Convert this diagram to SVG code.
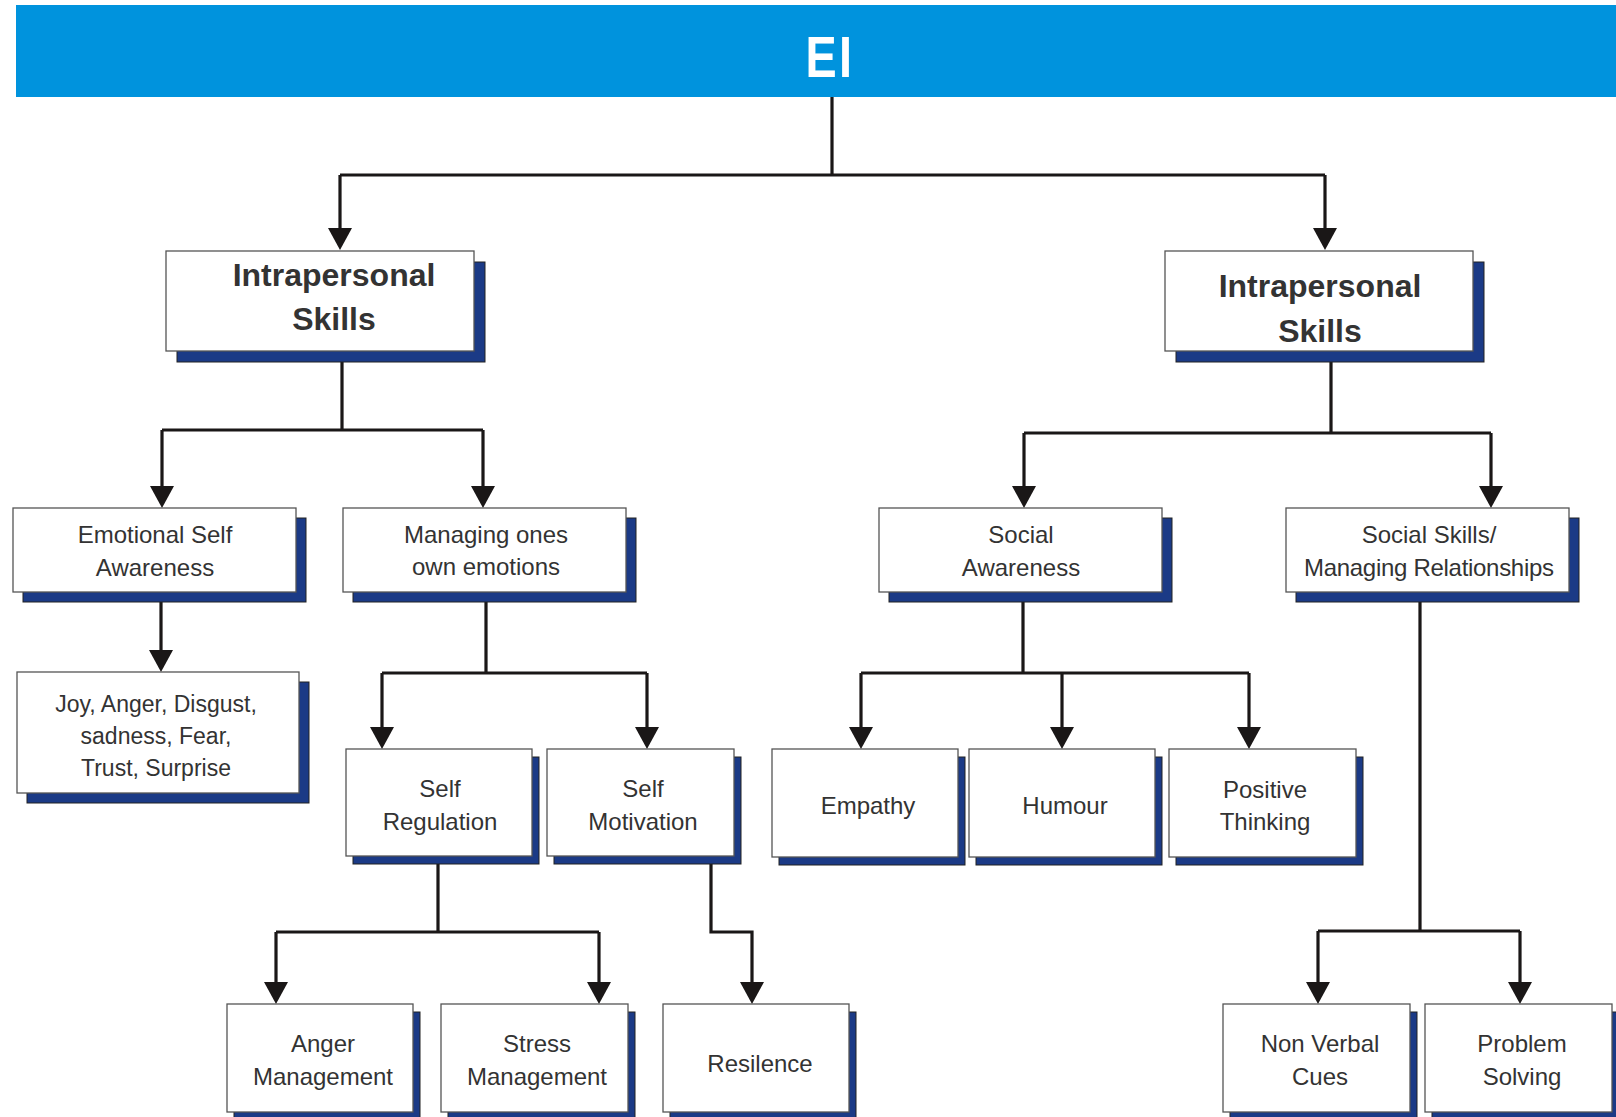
<svg xmlns="http://www.w3.org/2000/svg" width="1616" height="1117" viewBox="0 0 1616 1117">
<style>
.box{fill:#ffffff;stroke:#555555;stroke-width:1.3}
.sh{fill:#1b3a86;stroke:#222222;stroke-width:1}
.t{font-family:"Liberation Sans",Arial,sans-serif;font-size:24px;fill:#333333;text-anchor:middle}
.tb{font-family:"Liberation Sans",Arial,sans-serif;font-size:32px;font-weight:bold;fill:#333333;text-anchor:middle}
.c{fill:none;stroke:#1a1717;stroke-width:3.2;stroke-linejoin:miter}
.a{fill:none;stroke:#1a1717;stroke-width:3.2;marker-end:url(#ah)}
</style>
<defs>
<marker id="ah" viewBox="0 0 22 24" refX="14" refY="12" markerWidth="22" markerHeight="24" markerUnits="userSpaceOnUse" orient="auto">
<path d="M0,0 L22,12 L0,24 Z" fill="#1a1717"/>
</marker>
</defs>
<rect width="1616" height="1117" fill="#ffffff"/>
<g id="ei">
<rect x="16" y="5" width="1600" height="92" fill="#0093dd"/>
<text transform="translate(830,77) scale(0.82,1)" x="0" y="0" style="font-family:'Liberation Sans',Arial,sans-serif;font-size:57px;font-weight:bold;fill:#ffffff;text-anchor:middle;letter-spacing:3px">EI</text>
</g>
<g id="connectors">
<path class="c" d="M832,97 V175"/>
<path class="c" d="M340,175 H1325"/>
<path class="a" d="M340,175 V242"/>
<path class="a" d="M1325,175 V242"/>
<path class="c" d="M342,351 V430 M162,430 H483"/>
<path class="a" d="M162,430 V500"/>
<path class="a" d="M483,430 V500"/>
<path class="a" d="M161,592 V664"/>
<path class="c" d="M486,592 V673 M382,673 H647"/>
<path class="a" d="M382,673 V741"/>
<path class="a" d="M647,673 V741"/>
<path class="c" d="M438,856 V932 M276,932 H599"/>
<path class="a" d="M276,932 V996"/>
<path class="a" d="M599,932 V996"/>
<path class="a" d="M711,856 V932 H752 V996"/>
<path class="c" d="M1331,351 V433 M1024,433 H1491"/>
<path class="a" d="M1024,433 V500"/>
<path class="a" d="M1491,433 V500"/>
<path class="c" d="M1023,592 V673 M861,673 H1249"/>
<path class="a" d="M861,673 V741"/>
<path class="a" d="M1062,673 V741"/>
<path class="a" d="M1249,673 V741"/>
<path class="c" d="M1420,592 V931 M1318,931 H1520"/>
<path class="a" d="M1318,931 V996"/>
<path class="a" d="M1520,931 V996"/>
</g>
<g id="intra-left">
<rect class="sh" x="177" y="262" width="308" height="100"/>
<rect class="box" x="166" y="251" width="308" height="100"/>
<text class="tb" x="334" y="286">Intrapersonal</text>
<text class="tb" x="334" y="330">Skills</text>
</g>
<g id="intra-right">
<rect class="sh" x="1176" y="262" width="308" height="100"/>
<rect class="box" x="1165" y="251" width="308" height="100"/>
<text class="tb" x="1320" y="297">Intrapersonal</text>
<text class="tb" x="1320" y="342">Skills</text>
</g>
<g id="emotional-self-awareness">
<rect class="sh" x="23" y="518" width="283" height="84"/>
<rect class="box" x="13" y="508" width="283" height="84"/>
<text class="t" x="155" y="543">Emotional Self</text>
<text class="t" x="155" y="576">Awareness</text>
</g>
<g id="managing-emotions">
<rect class="sh" x="353" y="518" width="283" height="84"/>
<rect class="box" x="343" y="508" width="283" height="84"/>
<text class="t" x="486" y="543">Managing ones</text>
<text class="t" x="486" y="575">own emotions</text>
</g>
<g id="emotions-list">
<rect class="sh" x="27" y="682" width="282" height="121"/>
<rect class="box" x="17" y="672" width="282" height="121"/>
<text class="t" x="156" y="712" style="font-size:23px">Joy, Anger, Disgust,</text>
<text class="t" x="156" y="744" style="font-size:23px">sadness, Fear,</text>
<text class="t" x="156" y="776" style="font-size:23px">Trust, Surprise</text>
</g>
<g id="self-regulation">
<rect class="sh" x="353" y="757" width="186" height="107"/>
<rect class="box" x="346" y="749" width="186" height="107"/>
<text class="t" x="440" y="797">Self</text>
<text class="t" x="440" y="830">Regulation</text>
</g>
<g id="self-motivation">
<rect class="sh" x="554" y="757" width="187" height="107"/>
<rect class="box" x="547" y="749" width="187" height="107"/>
<text class="t" x="643" y="797">Self</text>
<text class="t" x="643" y="830">Motivation</text>
</g>
<g id="anger-management">
<rect class="sh" x="234" y="1012" width="186" height="108"/>
<rect class="box" x="227" y="1004" width="186" height="108"/>
<text class="t" x="323" y="1052">Anger</text>
<text class="t" x="323" y="1085">Management</text>
</g>
<g id="stress-management">
<rect class="sh" x="448" y="1012" width="187" height="108"/>
<rect class="box" x="441" y="1004" width="187" height="108"/>
<text class="t" x="537" y="1052">Stress</text>
<text class="t" x="537" y="1085">Management</text>
</g>
<g id="resilence">
<rect class="sh" x="670" y="1012" width="186" height="108"/>
<rect class="box" x="663" y="1004" width="186" height="108"/>
<text class="t" x="760" y="1072">Resilence</text>
</g>
<g id="social-awareness">
<rect class="sh" x="889" y="518" width="283" height="84"/>
<rect class="box" x="879" y="508" width="283" height="84"/>
<text class="t" x="1021" y="543">Social</text>
<text class="t" x="1021" y="576">Awareness</text>
</g>
<g id="social-skills">
<rect class="sh" x="1296" y="518" width="283" height="84"/>
<rect class="box" x="1286" y="508" width="283" height="84"/>
<text class="t" x="1429" y="543">Social Skills/</text>
<text class="t" x="1429" y="576" textLength="250" lengthAdjust="spacing">Managing Relationships</text>
</g>
<g id="empathy">
<rect class="sh" x="779" y="757" width="186" height="108"/>
<rect class="box" x="772" y="749" width="186" height="108"/>
<text class="t" x="868" y="814">Empathy</text>
</g>
<g id="humour">
<rect class="sh" x="976" y="757" width="186" height="108"/>
<rect class="box" x="969" y="749" width="186" height="108"/>
<text class="t" x="1065" y="814">Humour</text>
</g>
<g id="positive-thinking">
<rect class="sh" x="1176" y="757" width="187" height="108"/>
<rect class="box" x="1169" y="749" width="187" height="108"/>
<text class="t" x="1265" y="798">Positive</text>
<text class="t" x="1265" y="830">Thinking</text>
</g>
<g id="non-verbal-cues">
<rect class="sh" x="1230" y="1012" width="187" height="108"/>
<rect class="box" x="1223" y="1004" width="187" height="108"/>
<text class="t" x="1320" y="1052">Non Verbal</text>
<text class="t" x="1320" y="1085">Cues</text>
</g>
<g id="problem-solving">
<rect class="sh" x="1432" y="1012" width="187" height="108"/>
<rect class="box" x="1425" y="1004" width="187" height="108"/>
<text class="t" x="1522" y="1052">Problem</text>
<text class="t" x="1522" y="1085">Solving</text>
</g>
</svg>
